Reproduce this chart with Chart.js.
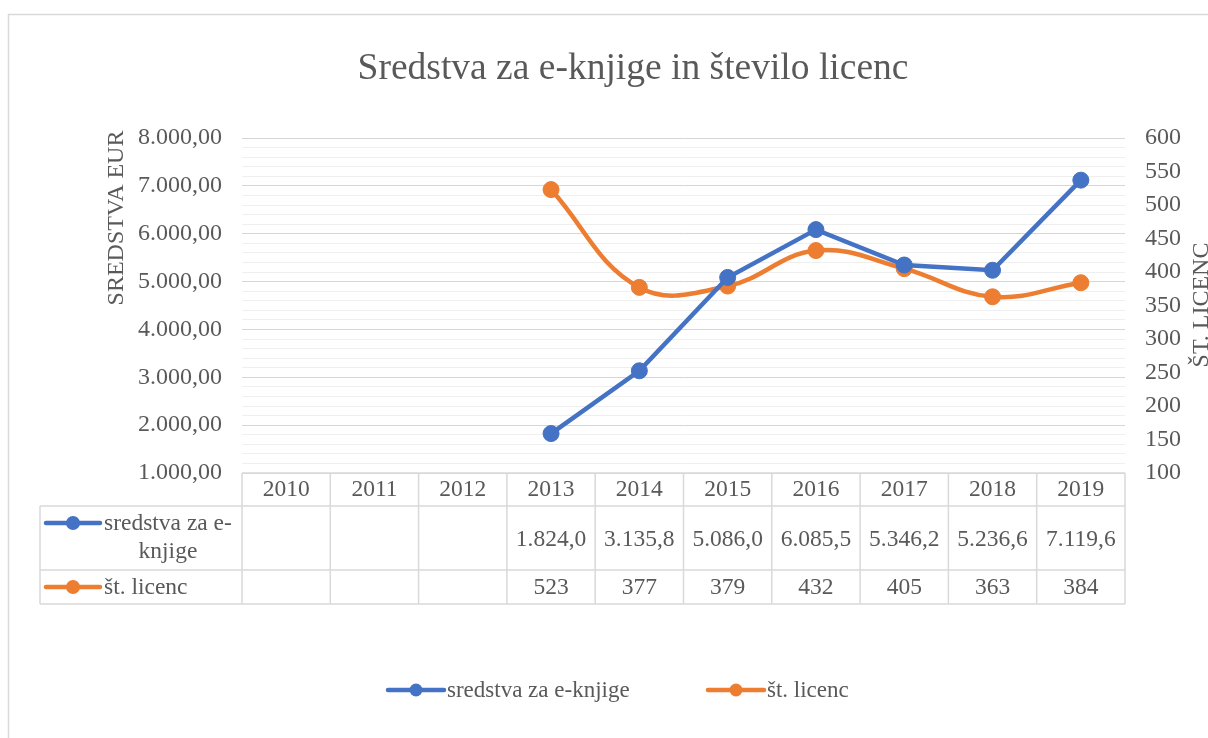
<!DOCTYPE html>
<html>
<head>
<meta charset="utf-8">
<title>Sredstva za e-knjige in število licenc</title>
<script src="https://cdn.jsdelivr.net/npm/chart.js@4.4.1/dist/chart.umd.min.js"></script>
<style>
  html, body { margin: 0; padding: 0; background: #fff; }
  #chart-container { position: relative; width: 1208px; height: 738px; }
</style>
</head>
<body>
<div id="chart-container"><canvas id="chart"></canvas></div>
<script>
var years = ['2010', '2011', '2012', '2013', '2014', '2015', '2016', '2017', '2018', '2019'];
var sredstva = [null, null, null, 1824.0, 3135.8, 5086.0, 6085.5, 5346.2, 5236.6, 7119.6];
var licence = [null, null, null, 523, 377, 379, 432, 405, 363, 384];
var seriesNames = ['sredstva za e-knjige', 'št. licenc'];
var seriesColors = ['#4472C4', '#ED7D31'];
var chartTitle = 'Sredstva za e-knjige in število licenc';
var leftAxisTitle = 'SREDSTVA EUR';
var rightAxisTitle = 'ŠT. LICENC';

var FONT = "'Liberation Serif', 'Times New Roman', serif";
var TEXT = '#595959';
var BORDER = '#d9d9d9';

Chart.defaults.font.family = FONT;
Chart.defaults.color = TEXT;

// 1.824,0 style numbers
function fmt(v, dec) {
    var parts = v.toFixed(dec).split('.');
    var whole = parts[0].replace(/\B(?=(\d{3})+(?!\d))/g, '.');
    return dec ? whole + ',' + parts[1] : whole;
}

// line with a dot, as in the Excel legend
function drawKey(ctx, x0, x1, y, color, r) {
    ctx.save();
    ctx.strokeStyle = color;
    ctx.fillStyle = color;
    ctx.lineWidth = 4.5;
    ctx.lineCap = 'round';
    ctx.beginPath();
    ctx.moveTo(x0, y);
    ctx.lineTo(x1, y);
    ctx.stroke();
    ctx.beginPath();
    ctx.arc((x0 + x1) / 2, y, r, 0, Math.PI * 2);
    ctx.fill();
    ctx.restore();
}

var framePlugin = {
    id: 'frame',
    beforeDraw: function(chart) {
        var ctx = chart.ctx;
        ctx.save();
        ctx.fillStyle = '#fff';
        ctx.fillRect(0, 0, chart.width, chart.height);
        ctx.strokeStyle = BORDER;
        ctx.lineWidth = 1.5;
        ctx.strokeRect(8.5, 14.5, 1400, 900);
        ctx.restore();
    }
};

var tablePlugin = {
    id: 'dataTable',
    afterDraw: function(chart) {
        var ctx = chart.ctx;
        var x = chart.scales.x;
        var area = chart.chartArea;
        var colW = x.width / years.length;
        var top = area.bottom;
        var r1 = top + 33, r2 = top + 97, bottom = top + 131;
        var tableLeft = 40;

        ctx.save();
        ctx.strokeStyle = BORDER;
        ctx.lineWidth = 1.5;
        ctx.beginPath();
        ctx.moveTo(x.left, top); ctx.lineTo(x.right, top);
        [r1, r2, bottom].forEach(function(yy) {
            ctx.moveTo(tableLeft, yy); ctx.lineTo(x.right, yy);
        });
        ctx.moveTo(tableLeft, r1); ctx.lineTo(tableLeft, bottom);
        for (var i = 0; i <= years.length; i++) {
            var xx = x.left + i * colW;
            ctx.moveTo(xx, top); ctx.lineTo(xx, bottom);
        }
        ctx.stroke();

        ctx.fillStyle = TEXT;
        ctx.font = '23.5px ' + FONT;
        ctx.textAlign = 'center';
        ctx.textBaseline = 'middle';
        for (var j = 0; j < years.length; j++) {
            var cx = x.getPixelForTick(j);
            ctx.fillText(years[j], cx, top + 17);
            if (sredstva[j] !== null) ctx.fillText(fmt(sredstva[j], 1), cx, r1 + 34);
            if (licence[j] !== null) ctx.fillText(fmt(licence[j], 0), cx, r2 + 18);
        }

        // row headers
        drawKey(ctx, 46, 100, r1 + 17, seriesColors[0], 7);
        drawKey(ctx, 46, 100, r2 + 17, seriesColors[1], 7);
        var name = seriesNames[0];
        var cut = name.indexOf('e-') + 2;
        var l1 = name.slice(0, cut), l2 = name.slice(cut);
        ctx.textAlign = 'left';
        ctx.fillText(l1, 104, r1 + 18);
        var w1 = ctx.measureText(l1).width;
        ctx.textAlign = 'center';
        ctx.fillText(l2, 104 + w1 / 2, r1 + 46);
        ctx.textAlign = 'left';
        ctx.fillText(seriesNames[1], 104, r2 + 18);

        // axis titles
        ctx.font = '24px ' + FONT;
        ctx.textAlign = 'center';
        ctx.textBaseline = 'alphabetic';
        ctx.save();
        ctx.translate(123, 218);
        ctx.rotate(-Math.PI / 2);
        ctx.fillText(leftAxisTitle, 0, 0);
        ctx.restore();
        ctx.save();
        ctx.translate(1208, 305);
        ctx.rotate(-Math.PI / 2);
        ctx.fillText(rightAxisTitle, 0, 0);
        ctx.restore();

        // legend
        ctx.font = '23px ' + FONT;
        ctx.textAlign = 'left';
        ctx.textBaseline = 'middle';
        drawKey(ctx, 388, 444, 690, seriesColors[0], 6.5);
        ctx.fillText(seriesNames[0], 447, 691);
        drawKey(ctx, 708, 764, 690, seriesColors[1], 6.5);
        ctx.fillText(seriesNames[1], 767, 691);
        ctx.restore();
    }
};

var ctx = document.getElementById('chart').getContext('2d');
var chart = new Chart(ctx, {
    type: 'line',
    data: {
        labels: years,
        datasets: [{
            label: seriesNames[0],
            data: sredstva,
            yAxisID: 'y',
            borderColor: seriesColors[0],
            backgroundColor: seriesColors[0],
            borderWidth: 4.5,
            pointRadius: 8,
            pointBorderWidth: 1,
            tension: 0,
            fill: false
        }, {
            label: seriesNames[1],
            data: licence,
            yAxisID: 'y1',
            borderColor: seriesColors[1],
            backgroundColor: seriesColors[1],
            borderWidth: 4.5,
            pointRadius: 8,
            pointBorderWidth: 1,
            tension: 0.4,
            fill: false
        }]
    },
    options: {
        responsive: true,
        maintainAspectRatio: false,
        animation: false,
        layout: { padding: { top: 0, left: 58, right: 0, bottom: 134 } },
        plugins: {
            legend: { display: false },
            tooltip: { enabled: false },
            title: {
                display: true,
                text: chartTitle,
                color: TEXT,
                font: { size: 37.5, weight: 'normal' },
                padding: { top: 47, bottom: 46 }
            }
        },
        scales: {
            x: {
                type: 'category',
                offset: true,
                grid: { display: false },
                border: { display: false },
                ticks: { display: false },
                afterFit: function(s) { s.height = 131; }
            },
            y: {
                position: 'left',
                min: 1000,
                max: 8000,
                border: { display: false },
                grid: {
                    drawTicks: false,
                    color: function(c) {
                        return c.tick && c.tick.value % 1000 === 0 ? '#d6d6d6' : '#efefef';
                    }
                },
                ticks: {
                    stepSize: 200,
                    autoSkip: false,
                    padding: 20,
                    color: TEXT,
                    font: { size: 24 },
                    callback: function(v) { return v % 1000 === 0 ? fmt(v, 2) : ''; }
                },
                afterFit: function(s) { s.width = 184; }
            },
            y1: {
                position: 'right',
                min: 100,
                max: 600,
                border: { display: false },
                grid: { display: false, drawTicks: false },
                ticks: {
                    stepSize: 50,
                    autoSkip: false,
                    padding: 20,
                    color: TEXT,
                    font: { size: 24 }
                },
                afterFit: function(s) { s.width = 83; }
            }
        }
    },
    plugins: [framePlugin, tablePlugin]
});
</script>
</body>
</html>
